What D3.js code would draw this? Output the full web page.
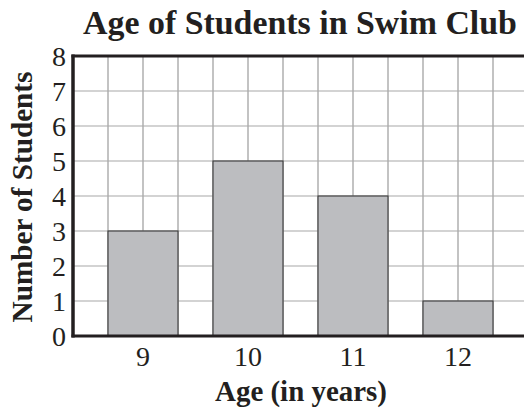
<!DOCTYPE html>
<html><head><meta charset="utf-8">
<script src="https://cdn.jsdelivr.net/npm/d3@7"></script>
<style>html,body{margin:0;padding:0;background:#fff;overflow:hidden}</style>
</head><body>
<script>
const categories = ["9", "10", "11", "12"];
const values = [3, 5, 4, 1];
const yTicks = [0, 1, 2, 3, 4, 5, 6, 7, 8];
const titleText = "Age of Students in Swim Club";
const xLabelText = "Age (in years)";
const yLabelText = "Number of Students";

const W = 524, H = 413;
const pLeft = 73, pTop = 56, pBottom = 336;
const serif = "Liberation Serif, serif";

const svg = d3.select("body").append("svg").attr("width", W).attr("height", H);

const x = d3.scaleBand().domain(categories).range([90.5, 510.5]).paddingInner(1/3).paddingOuter(1/6);
const y = d3.scaleLinear().domain([0, 8]).range([pBottom, pTop]);
const cell = x.step() / 3;

// grid
const g = svg.append("g");
g.selectAll(".hg").data(yTicks.filter(d => d > 0 && d < 8)).join("line")
  .attr("x1", pLeft).attr("x2", W).attr("y1", d => y(d)).attr("y2", d => y(d))
  .attr("stroke", "#c4c4c4").attr("stroke-width", 1.5);
g.selectAll(".vg").data(d3.range(1, 14)).join("line")
  .attr("x1", d => pLeft + d * cell).attr("x2", d => pLeft + d * cell)
  .attr("y1", pTop).attr("y2", pBottom)
  .attr("stroke", "#aaaaaa").attr("stroke-width", 1.4);

// bars
svg.selectAll(".bar").data(values).join("rect")
  .attr("x", (d, i) => x(categories[i]))
  .attr("y", d => y(d))
  .attr("width", x.bandwidth())
  .attr("height", d => y(0) - y(d))
  .attr("fill", "#bcbdc0").attr("stroke", "#3a3a3a").attr("stroke-width", 1.1);

// frame
const ax = "#231f20";
svg.append("line").attr("x1", pLeft - 1.5).attr("x2", W).attr("y1", pTop).attr("y2", pTop).attr("stroke", ax).attr("stroke-width", 3);
svg.append("line").attr("x1", pLeft - 1.5).attr("x2", W).attr("y1", pBottom).attr("y2", pBottom).attr("stroke", ax).attr("stroke-width", 3);
svg.append("line").attr("x1", pLeft).attr("x2", pLeft).attr("y1", pTop - 1.5).attr("y2", pBottom + 1.5).attr("stroke", ax).attr("stroke-width", 3.5);

// y tick labels
svg.selectAll(".yt").data(yTicks).join("text")
  .attr("x", 66).attr("y", d => y(d) + 9.5)
  .attr("text-anchor", "end")
  .style("font-family", serif).style("font-size", "28px").attr("fill", ax)
  .text(d => d);

// x tick labels
svg.selectAll(".xt").data(categories).join("text")
  .attr("x", d => x(d) + x.bandwidth() / 2).attr("y", 366)
  .attr("text-anchor", "middle")
  .style("font-family", serif).style("font-size", "28px").attr("fill", ax)
  .text(d => d);

function fit(sel, target) {
  const w = sel.node().getComputedTextLength();
  const fs = parseFloat(sel.style("font-size"));
  sel.style("font-size", (fs * target / w) + "px");
}

const title = svg.append("text").attr("x", 300).attr("y", 34).attr("text-anchor", "middle")
  .style("font-family", serif).style("font-weight", "bold").style("font-size", "30px").attr("fill", ax)
  .text(titleText);
fit(title, 434);

const xl = svg.append("text").attr("x", 301).attr("y", 401).attr("text-anchor", "middle")
  .style("font-family", serif).style("font-weight", "bold").style("font-size", "24px").attr("fill", ax)
  .text(xLabelText);
fit(xl, 172);

const yl = svg.append("text").attr("transform", "translate(32,197) rotate(-90)").attr("text-anchor", "middle")
  .style("font-family", serif).style("font-weight", "bold").style("font-size", "24px").attr("fill", ax)
  .text(yLabelText);
fit(yl, 251);
</script>
</body></html>
